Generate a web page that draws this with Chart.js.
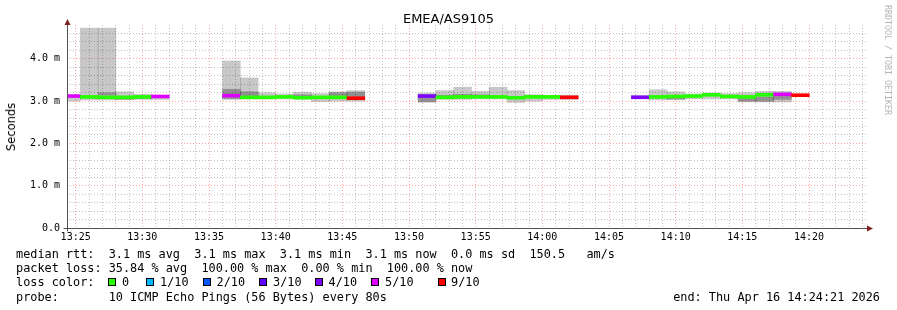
<!DOCTYPE html>
<html lang="en">
<head>
<meta charset="UTF-8">
<title>EMEA/AS9105</title>
<script src="https://cdn.jsdelivr.net/npm/chart.js"></script>
<style>
  body { margin: 0; background: #fff; }
  #wrap { position: relative; width: 897px; height: 310px; overflow: hidden; background: #fff; }
  #wrap canvas { position: absolute; left: 0; top: 0; }
  .mono { position: absolute; white-space: pre; font-family: 'DejaVu Sans Mono', monospace; font-size: 11.85px; line-height: 14px; color: #000; }
  #title { position: absolute; left: 0; width: 897px; top: 11px; text-align: center; font-family: 'DejaVu Sans', sans-serif; font-size: 13px; line-height: 16px; color: #000; }
  #ylabel { position: absolute; left: 11px; top: 127px; transform: translate(-50%, -50%) rotate(-90deg); font-family: 'DejaVu Sans', sans-serif; font-size: 11.5px; white-space: nowrap; color: #000; }
  #mark { position: absolute; left: 883px; top: 5px; writing-mode: vertical-rl; font-family: 'DejaVu Sans Mono', monospace; font-size: 8.3px; color: #b4b4b4; white-space: nowrap; }
  .box { position: absolute; width: 8px; height: 8px; border: 1px solid #000; box-sizing: border-box; }
</style>
</head>
<body>
<div id="wrap">
  <canvas id="chart" width="897" height="310"></canvas>
  <div id="title">EMEA/AS9105</div>
  <div id="ylabel">Seconds</div>
  <div id="mark">RRDTOOL / TOBI OETIKER</div>
  <div class="mono" style="left:16px;top:247px">median rtt:  3.1 ms avg  3.1 ms max  3.1 ms min  3.1 ms now  0.0 ms sd  150.5   am/s</div>
  <div class="mono" style="left:16px;top:261px">packet loss: 35.84 % avg  100.00 % max  0.00 % min  100.00 % now</div>
  <div class="mono" style="left:16px;top:275px">loss color:</div>
  <div id="lossLegend"></div>
  <div class="mono" style="left:16px;top:289.5px">probe:       10 ICMP Echo Pings (56 Bytes) every 80s</div>
  <div class="mono" style="right:17px;top:289.5px">end: Thu Apr 16 14:24:21 2026</div>
</div>

<script>
// time window of the graph
const axisStart = '13:24:21';
const axisEnd = '14:24:21';
const stepSeconds = 80;

// one entry per 80s step that has data
const stepStart = [
  '13:24:01', '13:25:21', '13:26:41', '13:28:01', '13:29:21', '13:30:41',
  '13:36:01', '13:37:21', '13:38:41', '13:40:01', '13:41:21', '13:42:41', '13:44:01', '13:45:21',
  '13:50:41', '13:52:01', '13:53:21', '13:54:41', '13:56:01', '13:57:21', '13:58:41', '14:00:01', '14:01:21',
  '14:06:41', '14:08:01', '14:09:21', '14:10:41', '14:12:01', '14:13:21', '14:14:41', '14:16:01', '14:17:21', '14:18:41'
];
const medianMs = [
  3.12, 3.10, 3.09, 3.09, 3.10, 3.11,
  3.13, 3.09, 3.09, 3.10, 3.08, 3.09, 3.09, 3.07,
  3.12, 3.09, 3.10, 3.10, 3.10, 3.08, 3.10, 3.10, 3.09,
  3.09, 3.10, 3.11, 3.12, 3.15, 3.11, 3.10, 3.15, 3.16, 3.14
];
const lossCount = [
  5, 0, 0, 0, 0, 5,
  5, 0, 0, 0, 0, 0, 0, 9,
  4, 0, 0, 0, 0, 0, 0, 0, 9,
  4, 0, 0, 0, 0, 0, 0, 0, 5, 9
];
const smokeLo = [
  3.00, 3.03, 3.03, 3.04, 3.04, 3.04,
  3.04, 3.05, 3.05, 3.05, 3.05, 2.99, 3.00, 3.00,
  2.97, 3.04, 3.04, 3.05, 3.05, 2.97, 3.00, 3.04, 3.04,
  3.06, 3.03, 3.03, 3.05, 3.05, 3.05, 2.98, 2.98, 2.98, null
];
const smokeHi = [
  3.14, 4.73, 4.73, 3.22, 3.16, 3.13,
  3.95, 3.55, 3.20, 3.17, 3.21, 3.18, 3.22, 3.25,
  3.19, 3.25, 3.33, 3.23, 3.33, 3.25, 3.15, 3.14, 3.14,
  3.14, 3.27, 3.22, 3.17, 3.19, 3.18, 3.20, 3.23, 3.23, null
];
const coreLo = [
  null, null, 3.14, 3.04, 3.06, null,
  3.06, 3.11, null, null, 3.12, null, 3.11, 3.11,
  2.99, 3.11, 3.12, 3.12, null, null, 3.11, null, null,
  null, null, 3.05, null, null, 3.11, 3.00, 3.00, 3.04, null
];
const coreHi = [
  null, null, 3.20, 3.07, 3.08, null,
  3.28, 3.22, null, null, 3.15, null, 3.20, 3.21,
  3.10, 3.14, 3.16, 3.15, null, null, 3.14, null, null,
  null, null, 3.08, null, null, 3.13, 3.10, 3.10, 3.13, null
];

const lossKeys = [0, 1, 2, 3, 4, 5, 9];
const lossLabels = ['0', '1/10', '2/10', '3/10', '4/10', '5/10', '9/10'];
const lossColors = ['#26ff00', '#00b8ff', '#0059ff', '#5e00ff', '#7e00ff', '#dd00ff', '#ff0000'];

function toSec(s) {
  const p = s.split(':').map(Number);
  return p[0] * 3600 + p[1] * 60 + p[2];
}
function fmt(sec) {
  const h = Math.floor(sec / 3600), m = Math.floor(sec / 60) % 60;
  return String(h).padStart(2, '0') + ':' + String(m).padStart(2, '0');
}
function colorFor(n) {
  return lossColors[lossKeys.indexOf(n)];
}

const xMin = toSec(axisStart);
const xMax = toSec(axisEnd);

function band(lo, hi) {
  const out = [];
  stepStart.forEach((s, i) => {
    if (lo[i] == null || hi[i] == null) return;
    out.push({ x: toSec(s) + stepSeconds / 2, y: [lo[i], hi[i]] });
  });
  return out;
}
const medLo = medianMs.map(v => v - 0.035);
const medHi = medianMs.map(v => v + 0.035);

// loss colour legend
const legendDiv = document.getElementById('lossLegend');
const boxLeft = [108, 146, 203, 259, 315, 371, 438];
const textLeft = [122, 160, 216.5, 273, 328.5, 385, 451];
lossLabels.forEach((lab, i) => {
  const b = document.createElement('div');
  b.className = 'box';
  b.style.left = boxLeft[i] + 'px';
  b.style.top = '278px';
  b.style.background = lossColors[i];
  legendDiv.appendChild(b);
  const t = document.createElement('div');
  t.className = 'mono';
  t.style.left = textLeft[i] + 'px';
  t.style.top = '275px';
  t.textContent = lab;
  legendDiv.appendChild(t);
});

const majorGrid = 'rgba(255,0,0,0.36)';
const minorGrid = 'rgba(120,120,120,0.45)';

// axis lines with little arrows like rrdtool
const axesPlugin = {
  id: 'axes',
  afterDraw(chart) {
    const { ctx, chartArea } = chart;
    const x0 = Math.round(chartArea.left) + 0.5;
    const y0 = Math.round(chartArea.bottom) + 0.5;
    ctx.save();
    ctx.strokeStyle = '#505050';
    ctx.lineWidth = 1;
    ctx.beginPath();
    ctx.moveTo(x0, y0 + 3);
    ctx.lineTo(x0, chartArea.top - 2);
    ctx.moveTo(x0 - 4, y0);
    ctx.lineTo(chartArea.right + 2, y0);
    ctx.stroke();
    ctx.fillStyle = '#802020';
    ctx.beginPath();
    ctx.moveTo(x0, chartArea.top - 6);
    ctx.lineTo(x0 - 3, chartArea.top);
    ctx.lineTo(x0 + 3, chartArea.top);
    ctx.closePath();
    ctx.fill();
    ctx.beginPath();
    ctx.moveTo(chartArea.right + 6, y0);
    ctx.lineTo(chartArea.right, y0 - 3);
    ctx.lineTo(chartArea.right, y0 + 3);
    ctx.closePath();
    ctx.fill();
    ctx.restore();
  }
};

new Chart(document.getElementById('chart'), {
  type: 'bar',
  data: {
    datasets: [
      {
        label: 'median',
        data: band(medLo, medHi),
        backgroundColor: stepStart.map((s, i) => colorFor(lossCount[i])),
        order: 0
      },
      {
        label: 'core',
        data: band(coreLo, coreHi),
        backgroundColor: 'rgba(0,0,0,0.28)',
        order: 1
      },
      {
        label: 'smoke',
        data: band(smokeLo, smokeHi),
        backgroundColor: 'rgba(0,0,0,0.215)',
        order: 2
      }
    ]
  },
  options: {
    responsive: false,
    animation: false,
    devicePixelRatio: 1,
    layout: { padding: { left: 0, right: 30, top: 25, bottom: 62 } },
    datasets: {
      bar: { grouped: false, barPercentage: 1, categoryPercentage: 1, borderWidth: 0 }
    },
    plugins: { legend: { display: false }, tooltip: { enabled: false } },
    scales: {
      x: {
        type: 'linear',
        min: xMin,
        max: xMax,
        offset: false,
        afterFit(scale) { scale.height = 20; },
        afterBuildTicks(scale) {
          const t = [];
          for (let s = Math.ceil(xMin / 300) * 300; s <= xMax; s += 300) t.push({ value: s });
          scale.ticks = t;
        },
        grid: { offset: false, color: majorGrid, drawTicks: false },
        border: { display: false, dash: [1, 2] },
        ticks: {
          autoSkip: false,
          maxRotation: 0,
          padding: 3,
          color: '#000',
          font: { family: 'DejaVu Sans Mono', size: 10 },
          callback: v => fmt(v)
        }
      },
      x2: {
        type: 'linear',
        position: 'bottom',
        min: xMin,
        max: xMax,
        offset: false,
        afterFit(scale) { scale.height = 0; },
        afterBuildTicks(scale) {
          const t = [];
          for (let s = Math.ceil(xMin / 60) * 60; s <= xMax; s += 60) {
            if (s % 300 !== 0) t.push({ value: s });
          }
          scale.ticks = t;
        },
        grid: { offset: false, color: minorGrid, drawTicks: false },
        border: { display: false, dash: [1, 2] },
        ticks: { display: false }
      },
      y: {
        min: 0,
        max: 4.8,
        afterFit(scale) { scale.width = 67; },
        afterBuildTicks(scale) {
          const t = [];
          for (let i = 0; i <= 23; i++) t.push({ value: i / 5 });
          scale.ticks = t;
        },
        grid: {
          drawTicks: false,
          color: ctx => (Math.abs(ctx.tick.value - Math.round(ctx.tick.value)) < 1e-6 ? majorGrid : minorGrid)
        },
        border: { display: false, dash: [1, 2] },
        ticks: {
          autoSkip: false,
          padding: 7,
          color: '#000',
          font: { family: 'DejaVu Sans Mono', size: 10 },
          callback: v => {
            if (Math.abs(v - Math.round(v)) > 1e-6) return '';
            return v === 0 ? '0.0' : v.toFixed(1) + ' m';
          }
        }
      }
    }
  },
  plugins: [axesPlugin]
});
</script>
</body>
</html>
